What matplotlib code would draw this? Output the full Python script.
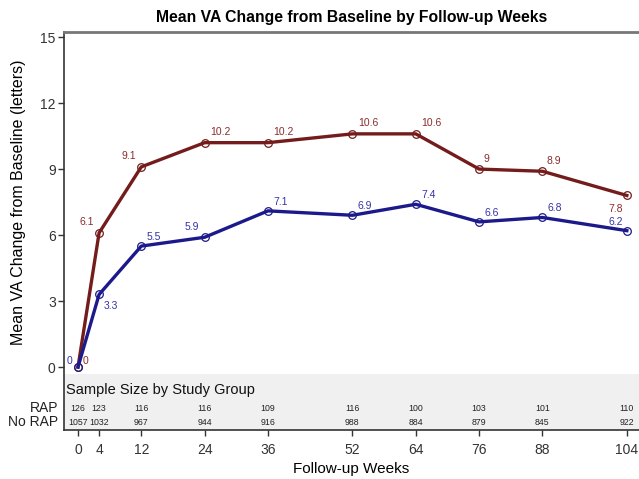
import numpy as np
import matplotlib.pyplot as plt
import matplotlib.transforms as mtransforms

plt.rcParams['font.family'] = ['Liberation Sans', 'DejaVu Sans']

# Data
weeks = [0, 4, 12, 24, 36, 52, 64, 76, 88, 104]
rap_mean = [0, 6.1, 9.1, 10.2, 10.2, 10.6, 10.6, 9, 8.9, 7.8]
norap_mean = [0, 3.3, 5.5, 5.9, 7.1, 6.9, 7.4, 6.6, 6.8, 6.2]
rap_n = [126, 123, 116, 116, 109, 116, 100, 103, 101, 110]
norap_n = [1057, 1032, 967, 944, 916, 988, 884, 879, 845, 922]
rap_lbl = ['0', '6.1', '9.1', '10.2', '10.2', '10.6', '10.6', '9', '8.9', '7.8']
norap_lbl = ['0', '3.3', '5.5', '5.9', '7.1', '6.9', '7.4', '6.6', '6.8', '6.2']

# label placement (offset in points) for each point
rap_off = [(3, 1), (-4, 4), (-4, 4), (4, 4), (4, 4), (4, 4), (4, 4), (3, 4), (3, 4), (-3, -6)]
norap_off = [(-4, 1), (3, -5), (4, 3), (-4, 4), (4, 3), (4, 3), (4, 3), (4, 3), (4, 3), (-3, 3)]

red = '#741c1c'
blue = '#1c1a8a'
red_txt = '#8a2c2c'
blue_txt = '#3533a8'

fig = plt.figure(figsize=(6.39, 4.79), dpi=100)
ax = fig.add_axes([64 / 639, 49 / 479, 575 / 639, 398 / 479])

ax.set_xlim(-2.65, 106.3)
ax.set_ylim(-2.86, 15.23)

# table band
ax.axhspan(-2.86, -0.32, color='#f0f0f0', zorder=0, lw=0)

ax.plot(weeks, rap_mean, color=red, lw=2.4, marker='o', ms=5.5, mfc='none',
        mec=red, mew=0.9, zorder=3)
ax.plot(weeks, norap_mean, color=blue, lw=2.4, marker='o', ms=5.5, mfc='none',
        mec=blue, mew=0.9, zorder=3)

for x, y, t, o in zip(weeks, rap_mean, rap_lbl, rap_off):
    ha = 'left' if o[0] > 0 else 'right'
    va = 'bottom' if o[1] > 0 else 'top'
    ax.annotate(t, (x, y), xytext=o, textcoords='offset points', ha=ha, va=va,
                fontsize=7.5, color=red_txt, zorder=4)
for x, y, t, o in zip(weeks, norap_mean, norap_lbl, norap_off):
    ha = 'left' if o[0] > 0 else 'right'
    va = 'bottom' if o[1] > 0 else 'top'
    ax.annotate(t, (x, y), xytext=o, textcoords='offset points', ha=ha, va=va,
                fontsize=7.5, color=blue_txt, zorder=4)

# sample size table
ax.text(-2.3, -1.05, 'Sample Size by Study Group', fontsize=10.5, va='center',
        ha='left', color='#111111')
for x, a, b in zip(weeks, rap_n, norap_n):
    ax.text(x, -1.87, str(a), fontsize=6.3, ha='center', va='center', color='#222222')
    ax.text(x, -2.5, str(b), fontsize=6.3, ha='center', va='center', color='#222222')
trans = mtransforms.blended_transform_factory(fig.transFigure, ax.transData)
ax.text(58 / 639, -1.87, 'RAP', transform=trans, fontsize=10, ha='right',
        va='center', color='#222222')
ax.text(58 / 639, -2.5, 'No RAP', transform=trans, fontsize=10, ha='right',
        va='center', color='#222222')

ax.set_xticks(weeks)
ax.set_yticks([0, 3, 6, 9, 12, 15])
ax.tick_params(axis='both', direction='out', length=4, width=1, color='#333333',
               labelsize=10, labelcolor='#333333', pad=2)
ax.tick_params(axis='x', pad=5)

for s in ['left', 'bottom']:
    ax.spines[s].set_color('#333333')
    ax.spines[s].set_linewidth(1.2)
ax.spines['top'].set_color('#777777')
ax.spines['top'].set_linewidth(2)
ax.spines['right'].set_visible(False)

ax.set_xlabel('Follow-up Weeks', fontsize=11, labelpad=4)
ax.set_ylabel('Mean VA Change from Baseline (letters)', fontsize=11.5)
ax.yaxis.set_label_coords(-0.066, 0.573)
ax.set_title('Mean VA Change from Baseline by Follow-up Weeks', fontsize=11.3,
             fontweight='bold', pad=7)

fig.savefig('out.png', dpi=100)
